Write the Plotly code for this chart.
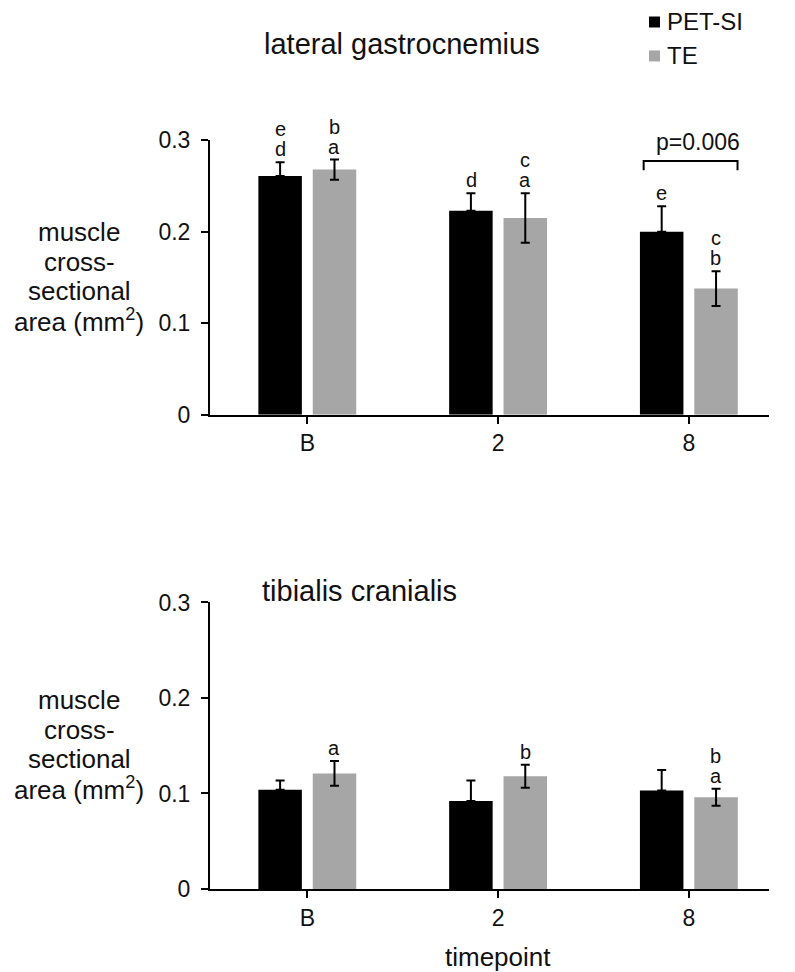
import plotly.graph_objects as go

# ---------------- data ----------------
timepoints = ["B", "2", "8"]
series_names = ["PET-SI", "TE"]

lg_pet = [0.261, 0.223, 0.200]
lg_pet_err = [0.015, 0.019, 0.028]
lg_te = [0.268, 0.215, 0.138]
lg_te_err = [0.011, 0.027, 0.019]

tc_pet = [0.104, 0.092, 0.103]
tc_pet_err = [0.0095, 0.0215, 0.0215]
tc_te = [0.121, 0.118, 0.096]
tc_te_err = [0.013, 0.012, 0.009]

# significance letters (top to bottom)
lg_pet_letters = [["e", "d"], ["d"], ["e"]]
lg_te_letters = [["b", "a"], ["c", "a"], ["c", "b"]]
tc_pet_letters = [[], [], []]
tc_te_letters = [["a"], ["b"], ["b", "a"]]

p_text = "p=0.006"
y_ticks = [0, 0.1, 0.2, 0.3]
y_tick_labels = ["0", "0.1", "0.2", "0.3"]

titles = ["lateral gastrocnemius", "tibialis cranialis"]
y_title_lines = ["muscle", "cross-", "sectional", "area (mm<sup>2</sup>)"]
x_title = "timepoint"

# ---------------- style ----------------
W, H = 795, 972
FONT = "Liberation Sans, Arial, sans-serif"
BLACK = "#000000"
GREY = "#a6a6a6"
TXT = "#111111"


def rx(px):
    # target pixel x -> paper fraction
    return (px - 7) / W


def ry(px):
    # target pixel y -> paper fraction
    return 1 - ((px - 20.5) / 0.975) / H


x_dom = [rx(209), rx(768)]
top_dom = [ry(415), ry(140)]
bot_dom = [ry(890), ry(603)]

fig = go.Figure()


def add_bars(pet, pet_err, te, te_err, xa, ya):
    fig.add_trace(go.Bar(
        x=timepoints, y=pet, name=series_names[0], marker_color=BLACK,
        marker_line_width=0,
        error_y=dict(type="data", array=pet_err, arrayminus=[0] * len(pet),
                     symmetric=False, color=BLACK, thickness=2, width=4.5),
        xaxis=xa, yaxis=ya, showlegend=False))
    fig.add_trace(go.Bar(
        x=timepoints, y=te, name=series_names[1], marker_color=GREY,
        marker_line_width=0,
        error_y=dict(type="data", array=te_err, color=BLACK, thickness=2, width=4.5),
        xaxis=xa, yaxis=ya, showlegend=False))


add_bars(lg_pet, lg_pet_err, lg_te, lg_te_err, "x", "y")
add_bars(tc_pet, tc_pet_err, tc_te, tc_te_err, "x2", "y2")

annotations = []


def add_letters(vals, errs, letters, xref, yref, xshift):
    for i in range(len(timepoints)):
        stack = letters[i]
        n = len(stack)
        for k, lt in enumerate(stack):
            level = n - 1 - k
            annotations.append(dict(
                x=i, y=vals[i] + errs[i], xref=xref, yref=yref,
                text=lt, showarrow=False, xshift=xshift,
                yanchor="middle", yshift=13 + level * 20,
                font=dict(family=FONT, size=20, color=TXT)))


add_letters(lg_pet, lg_pet_err, lg_pet_letters, "x", "y", -27)
add_letters(lg_te, lg_te_err, lg_te_letters, "x", "y", 27)
add_letters(tc_pet, tc_pet_err, tc_pet_letters, "x2", "y2", -27)
add_letters(tc_te, tc_te_err, tc_te_letters, "x2", "y2", 27)

# bracket with p value over timepoint 8 (top panel)
br_lo, br_hi = 0.2673, 0.2774
fig.add_shape(type="path", xref="x", yref="y",
              path=f"M 1.763,{br_lo} L 1.763,{br_hi} L 2.255,{br_hi} L 2.255,{br_lo}",
              line=dict(color=BLACK, width=2))
annotations.append(dict(x=2, y=br_hi, xref="x", yref="y", text=p_text,
                        showarrow=False, yanchor="middle", yshift=19, xshift=9,
                        font=dict(family=FONT, size=23, color=TXT)))

# panel titles
annotations.append(dict(x=rx(401), y=ry(44), xref="paper", yref="paper",
                        text=titles[0], showarrow=False, xanchor="center", yanchor="middle",
                        font=dict(family=FONT, size=29, color=TXT)))
annotations.append(dict(x=rx(259), y=ry(592), xref="paper", yref="paper",
                        text=titles[1], showarrow=False, xanchor="left", yanchor="middle",
                        font=dict(family=FONT, size=29, color=TXT)))

# y axis titles (one annotation per line)
for y0 in (232, 701):
    for j, line in enumerate(y_title_lines):
        annotations.append(dict(x=rx(78), y=ry(y0 + j * 29.5), xref="paper", yref="paper",
                                text=line, showarrow=False, xanchor="center",
                                yanchor="middle",
                                font=dict(family=FONT, size=26, color=TXT)))

# x axis title
annotations.append(dict(x=rx(497), y=ry(958), xref="paper", yref="paper",
                        text=x_title, showarrow=False, xanchor="center", yanchor="middle",
                        font=dict(family=FONT, size=26, color=TXT)))

# legend (manual)
for i, (nm, col) in enumerate(zip(series_names, [BLACK, GREY])):
    yc = 21.5 + i * 34
    fig.add_shape(type="rect", xref="paper", yref="paper",
                  x0=rx(648), x1=rx(659), y0=ry(yc + 5.5), y1=ry(yc - 5.5),
                  fillcolor=col, line_width=0)
    annotations.append(dict(x=rx(664), y=ry(yc), xref="paper", yref="paper",
                            text=nm, showarrow=False, xanchor="left", yanchor="middle",
                            font=dict(family=FONT, size=24, color=TXT)))

axis_common = dict(showline=True, linecolor=BLACK, linewidth=2, ticks="outside",
                   tickcolor=BLACK, tickwidth=2, ticklen=7, showgrid=False, zeroline=False,
                   tickfont=dict(family=FONT, size=23, color=TXT))

xrange = [-0.51, 2.42]
yrange = [0, 0.3]

fig.update_layout(
    width=W, height=H,
    margin=dict(l=0, r=0, t=0, b=0),
    paper_bgcolor="white", plot_bgcolor="white",
    barmode="group", bargap=0.43, bargroupgap=0.2,
    showlegend=False,
    annotations=annotations,
    xaxis=dict(domain=x_dom, anchor="y", range=xrange, type="category", **axis_common),
    yaxis=dict(domain=top_dom, anchor="x", range=yrange, tickvals=y_ticks,
               ticktext=y_tick_labels, ticklabelstandoff=6, **axis_common),
    xaxis2=dict(domain=x_dom, anchor="y2", range=xrange, type="category", **axis_common),
    yaxis2=dict(domain=bot_dom, anchor="x2", range=yrange, tickvals=y_ticks,
                ticktext=y_tick_labels, ticklabelstandoff=6, **axis_common),
)

fig.write_html("out.html")
